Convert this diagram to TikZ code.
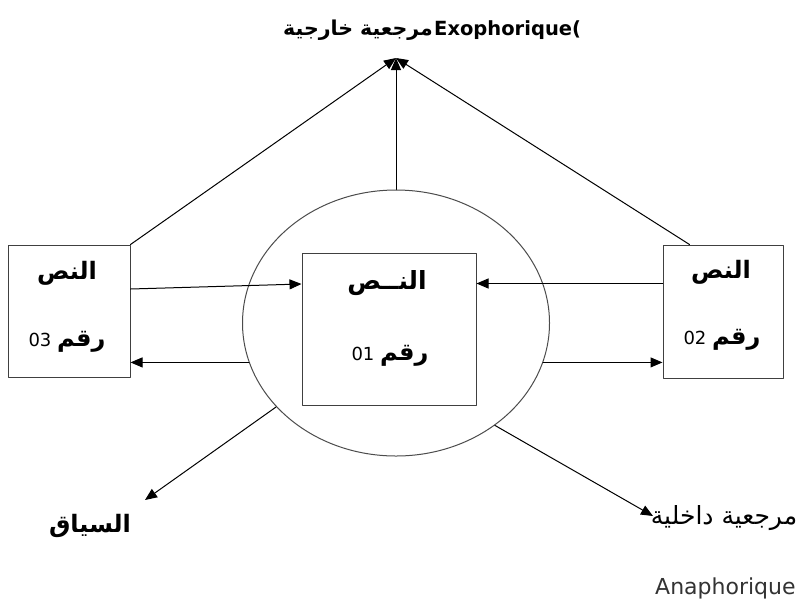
\documentclass[tikz,border=0pt]{standalone}
\usepackage{fontspec}
\setmainfont{DejaVu Sans}
\newfontfamily\arabicfont[Script=Arabic]{DejaVu Sans}
\TeXXeTstate=1
\usetikzlibrary{arrows.meta, positioning, shapes.geometric}
\newcommand{\artext}[1]{{\arabicfont\beginR #1\endR}}
\tikzset{every path/.style={line cap=round, line join=round}, >={Triangle[length=12pt, width=10pt]}}

\begin{document}
\begin{tikzpicture}[x=1pt, y=-1pt,
    textbox/.style={draw=black!75, line width=1pt, inner sep=0pt},
    arlabel/.style={font=\fontsize{24}{28}\selectfont\bfseries},
    numlabel/.style={font=\fontsize{18}{22}\selectfont},
    link/.style={->, line width=1pt}]
    \useasboundingbox [fill=white] (0,0) rectangle (802,606);
    % the three texts and their context
    \node [ellipse, draw=black!70, line width=1pt, minimum width=307pt, minimum height=266pt, inner sep=0pt] (context) at (396,323) {};
    \node [textbox, minimum width=122pt, minimum height=132pt] (text3) at (69,311) {};
    \node [textbox, minimum width=120pt, minimum height=133pt] (text2) at (723,311.5) {};
    \node [textbox, minimum width=174pt, minimum height=152pt, fill=white] (text1) at (389,329) {};
    \node [arlabel] (name3) at (67,273) {\artext{النص}};
    \node [numlabel] (num3) at (67,342) {03 {\bfseries\fontsize{24}{28}\selectfont\artext{رقم}}};
    \node [arlabel] (name2) at (721,272) {\artext{النص}};
    \node [numlabel] (num2) at (722,340) {02 {\bfseries\fontsize{24}{28}\selectfont\artext{رقم}}};
    \node [arlabel, font=\fontsize{25}{28}\selectfont\bfseries] (name1) at (387,283) {\artext{النــص}};
    \node [numlabel] (num1) at (390,356) {01 {\bfseries\fontsize{24}{28}\selectfont\artext{رقم}}};
    % outside labels
    \node [inner sep=0pt, anchor=east, font=\fontsize{20.5}{24}\selectfont\bfseries] (exoar) at (433,30) {\artext{مرجعية خارجية}};
    \node [inner sep=0pt, right=1pt of exoar, font=\fontsize{19.5}{22}\selectfont\bfseries] (exo) {Exophorique(};
    \node [arlabel, inner sep=0pt] (siyaq) at (90,526) {\artext{السياق}};
    \node [inner sep=0pt, font=\fontsize{25}{28}\selectfont] (dakhil) at (724,518) {\artext{مرجعية داخلية}};
    \node [anchor=base west, inner sep=0pt, text=black!80, font=\fontsize{22}{24}\selectfont] (ana) at (655,594) {Anaphorique};
    \coordinate (apex) at (396,58);
    \coordinate (siyaqtip) at (145,500);
    \coordinate (dakhiltip) at (653,516);
    % connectors
    \draw [link] (text3.north east) -- (apex);
    \draw [link] (context.north) -- (apex);
    \draw [link] ([xshift=27pt]text2.north west) -- (apex);
    \draw [link] ([yshift=22pt]text3.east) -- ([yshift=45pt]text1.west);
    \draw [link] ([yshift=28pt]text2.west) -- ([yshift=28pt]text2.west -| text1.east);
    \draw [link] (context.195) -- (context.195 -| text3.east);
    \draw [link] (context.345) -- (context.345 -| text2.west);
    \draw [link] (context.215) -- (siyaqtip);
    \draw [link] (context.314) -- (dakhiltip);
\end{tikzpicture}
\end{document}
